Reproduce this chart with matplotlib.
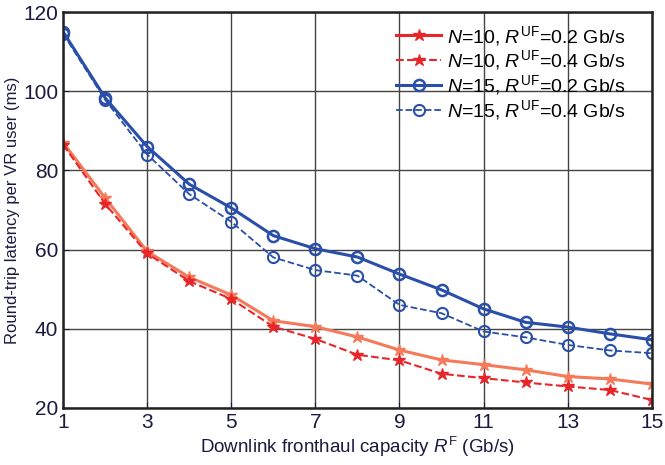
#!/usr/bin/env python3
"""Round-trip latency vs downlink fronthaul capacity"""
import matplotlib
matplotlib.use("Agg")
import matplotlib.pyplot as plt

plt.rcParams['font.family'] = ['Liberation Sans', 'DejaVu Sans']
plt.rcParams['mathtext.fontset'] = 'custom'
plt.rcParams['mathtext.rm'] = 'Liberation Sans'
plt.rcParams['mathtext.it'] = 'Liberation Sans:italic'

capacity = list(range(1, 16))
n10_r02 = [87, 73, 59.5, 53, 48.5, 42, 40.5, 37.9, 34.6, 32.1, 30.9, 29.6, 27.9, 27.3, 26]
n10_r04 = [86.5, 71.5, 59, 52, 47.5, 40.5, 37.4, 33.4, 32, 28.6, 27.5, 26.4, 25.4, 24.5, 22]
n15_r02 = [115, 98.3, 86, 76.5, 70.5, 63.5, 60.2, 58.1, 53.8, 49.8, 45, 41.6, 40.4, 38.7, 37.2]
n15_r04 = [114.5, 97.8, 84, 74, 67, 58, 54.8, 53.4, 46, 43.9, 39.3, 37.8, 35.9, 34.5, 33.8]
labels = [r'$N$=10, $R^{\mathrm{UF}}$=0.2 Gb/s',
          r'$N$=10, $R^{\mathrm{UF}}$=0.4 Gb/s',
          r'$N$=15, $R^{\mathrm{UF}}$=0.2 Gb/s',
          r'$N$=15, $R^{\mathrm{UF}}$=0.4 Gb/s']

fig = plt.figure(figsize=(6.65, 4.65), dpi=100)
ax = fig.add_axes([0.095, 0.123, 0.885, 0.851])

red = '#e8262a'
salmon = '#f47a5a'
blue = '#2a4fa8'

ax.plot(capacity, n10_r02, '-', color=salmon, lw=2.2, marker='*', ms=9,
        mfc=salmon, mec=salmon)
ax.plot(capacity, n10_r04, '--', color=red, lw=1.5, marker='*', ms=9,
        mfc=red, mec=red, label=labels[1])
ax.plot(capacity, n15_r02, '-', color=blue, lw=2.2, marker='o', ms=8,
        mfc='none', mec=blue, mew=1.8, label=labels[2])
ax.plot(capacity, n15_r04, '--', color=blue, lw=1.3, marker='o', ms=8,
        mfc='none', mec=blue, mew=1.5, label=labels[3])
# legend entry for first series is drawn red in the original
ax.plot([], [], '-', color=red, lw=2.2, marker='*', ms=9, mfc=red, mec=red,
        label=labels[0])

ax.set_xlim(1, 15)
ax.set_ylim(20, 120)
ax.set_xticks(range(1, 16, 2))
ax.set_yticks(range(20, 121, 20))
ax.grid(True, color='#444444', lw=1.0)
ax.tick_params(direction='in', labelsize=15, colors='#1a1a40', length=4)
for s in ax.spines.values():
    s.set_linewidth(1.8)
    s.set_color('#222222')

ax.set_xlabel(r'Downlink fronthaul capacity $R^{\mathrm{F}}$ (Gb/s)',
              fontsize=13.5, color='#1a1a40', labelpad=2)
ax.set_ylabel('Round-trip latency per VR user (ms)', fontsize=12,
              color='#1a1a40', labelpad=2)

handles, labs = ax.get_legend_handles_labels()
order = [3, 0, 1, 2]
ax.legend([handles[i] for i in order], [labs[i] for i in order],
          loc='upper right', fontsize=14, frameon=False,
          labelspacing=0.05, handlelength=2.3, handletextpad=0.3,
          bbox_to_anchor=(0.985, 1.015))

fig.savefig('out.png', dpi=100)
